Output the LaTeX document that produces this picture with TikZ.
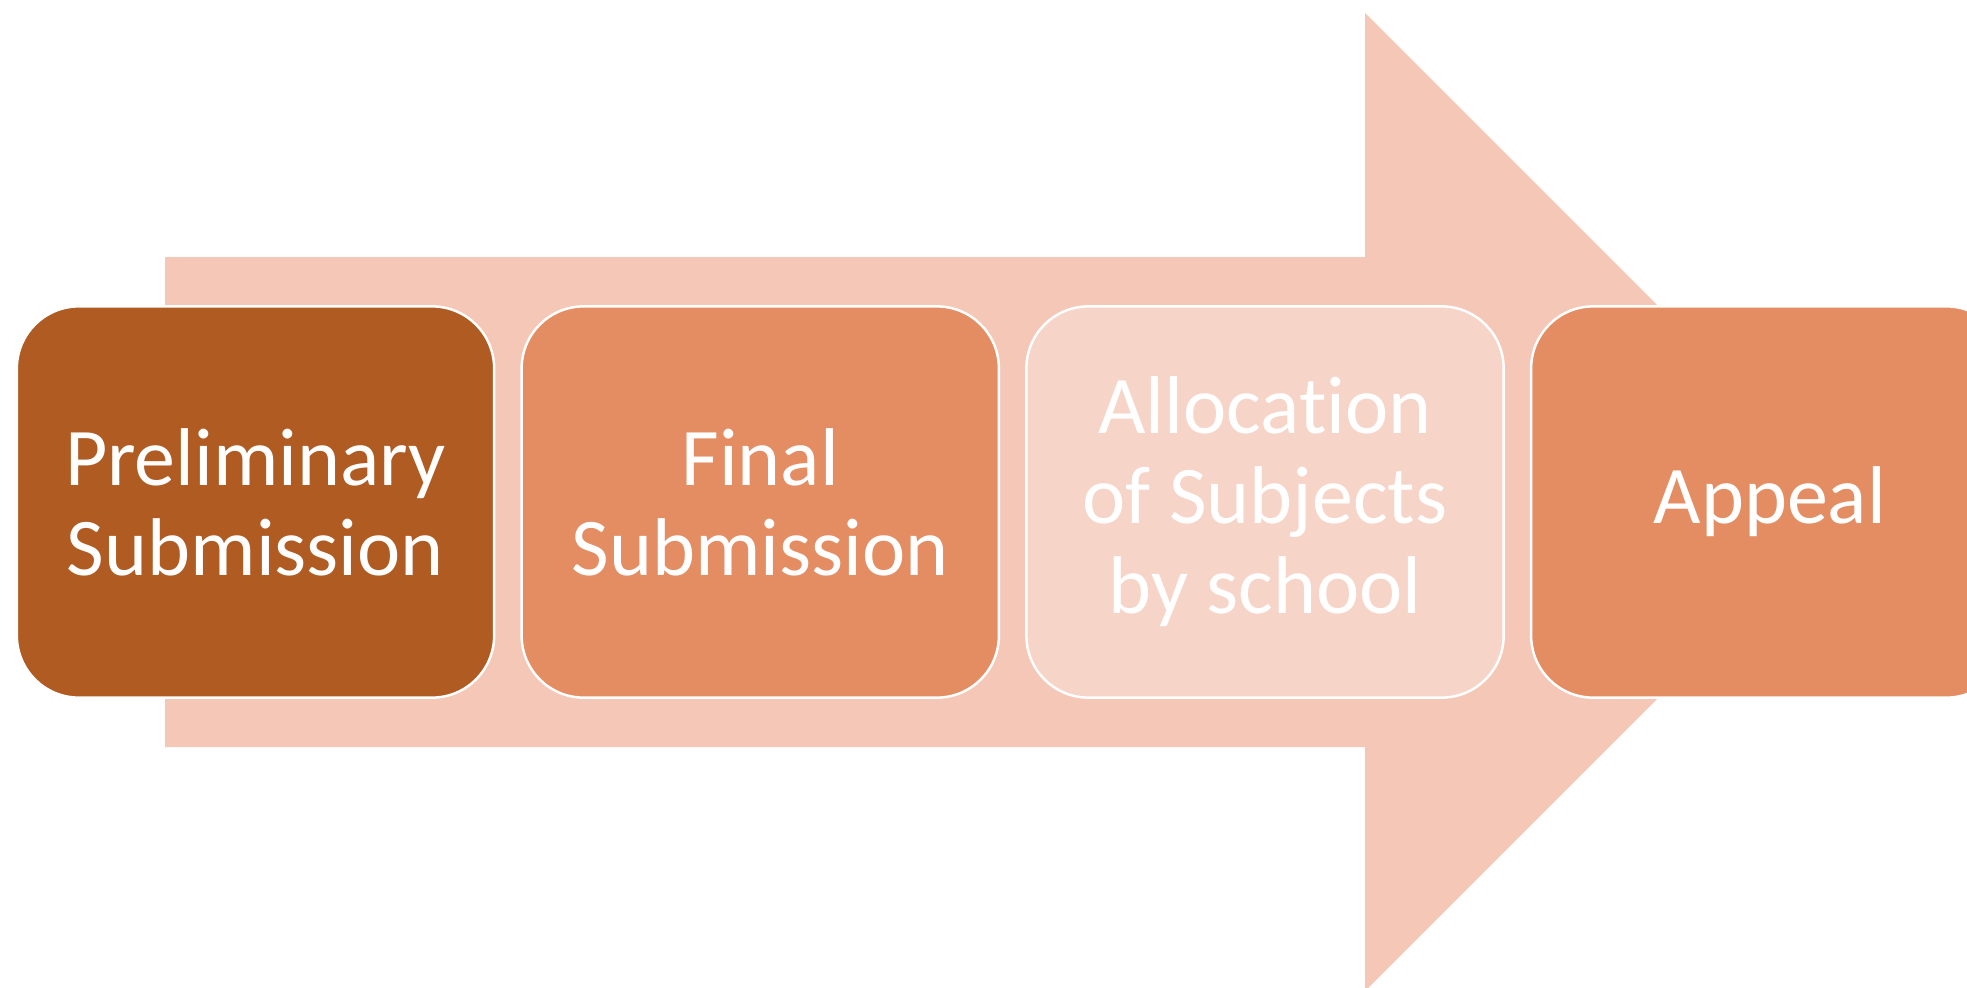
\documentclass[tikz,border=0pt]{standalone}
\usepackage{fontspec}
\setmainfont{Carlito}[Ligatures=NoCommon]
\usetikzlibrary{positioning}

\definecolor{arrowfill}{HTML}{F5C7B7}
\definecolor{stagedark}{HTML}{AF5B22}
\definecolor{stagemid}{HTML}{E48D63}
\definecolor{stagelight}{HTML}{F7D4C8}

\tikzset{
  stage/.style={draw=white, line width=0.7pt, rounded corners=0.62cm,
    minimum width=4.77cm, minimum height=3.91cm, inner sep=0pt,
    text=white, align=center, font=\fontsize{23.3pt}{25.6pt}\selectfont}
}

\begin{document}
\begin{tikzpicture}[x=0.01cm, y=-0.01cm]
    \useasboundingbox (0,0) rectangle (1967,987);
    % big arrow behind the stages
    \fill[arrowfill] (165,257) -- (1365,257) -- (1365,13) -- (1854,502)
        -- (1365,991) -- (1365,747) -- (165,747) -- cycle;
    % stages
    \node[stage, fill=stagedark] (prelim) at (255.5,502) {Preliminary\\Submission};
    \node[stage, fill=stagemid, right=0.25cm of prelim] (final) {Final\\Submission};
    \node[stage, fill=stagelight, right=0.25cm of final] (alloc) {Allocation\\of Subjects\\by school};
    \node[stage, fill=stagemid, right=0.25cm of alloc] (appeal) {Appeal};
\end{tikzpicture}
\end{document}
